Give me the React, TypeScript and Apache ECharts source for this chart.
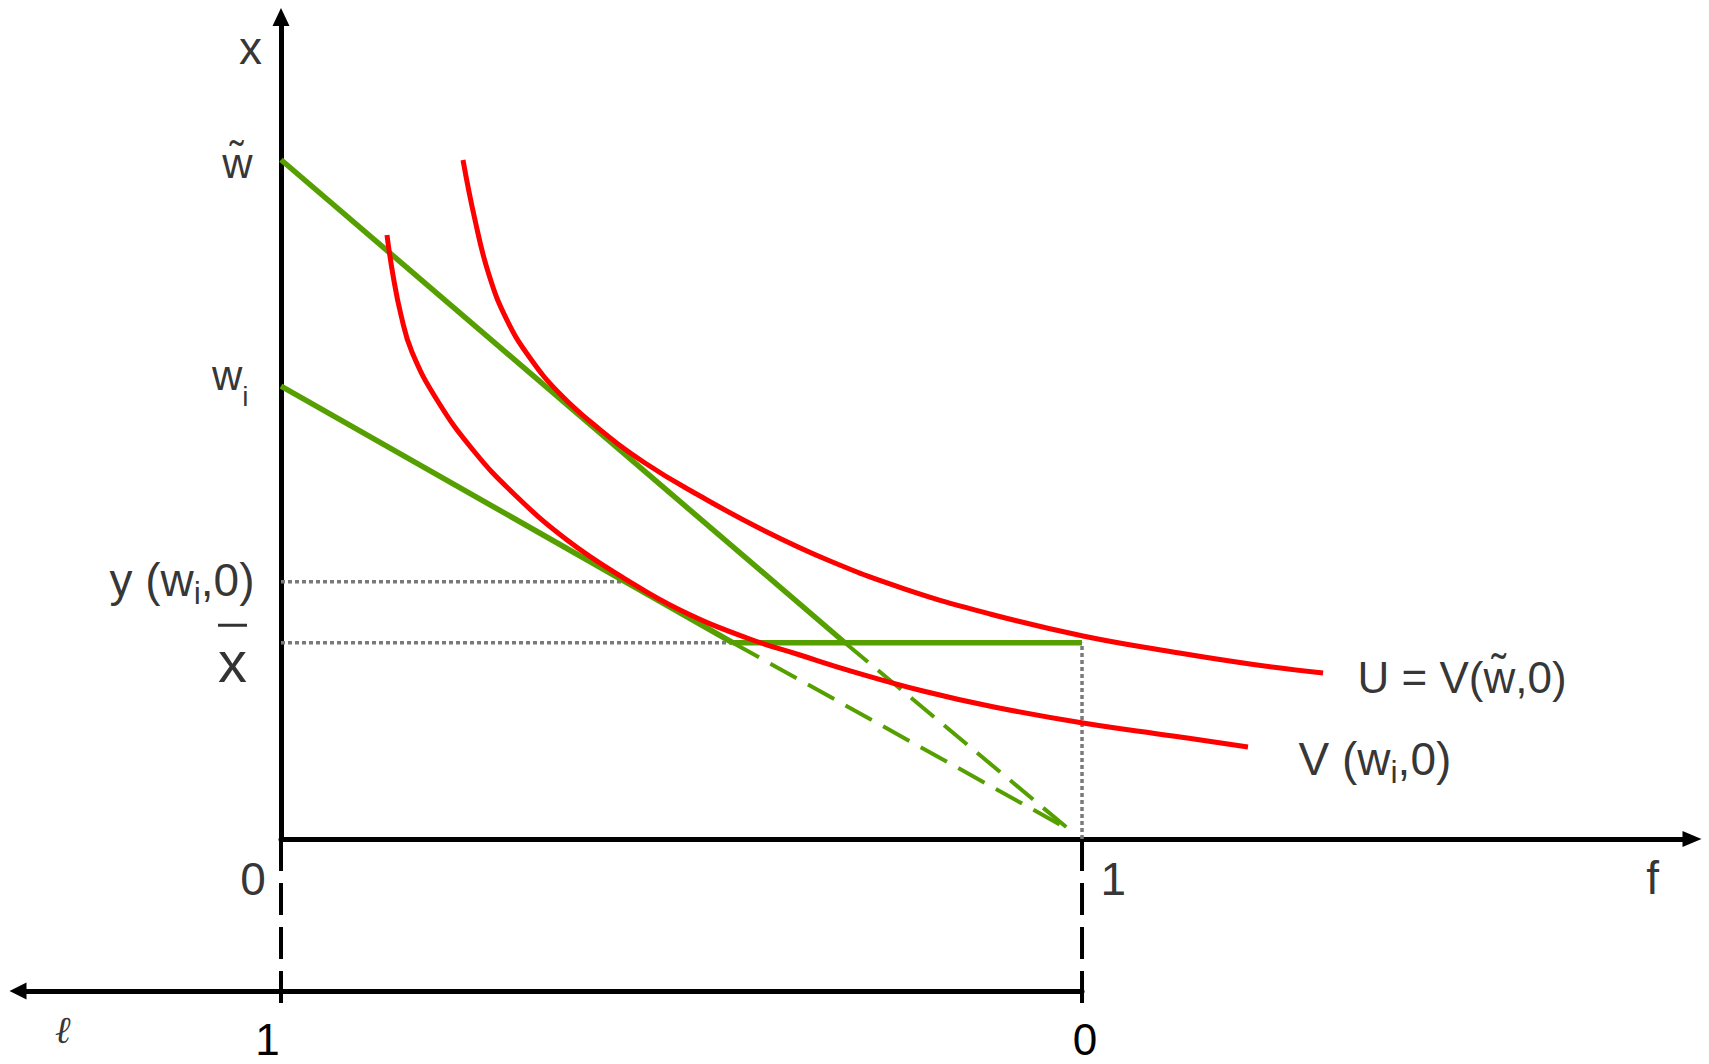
import React, { useEffect, useRef } from "react";
import * as echarts from "echarts";

// ---------------- data (f on the horizontal axis, x on the vertical axis) ----------------
const fAxisRange = [0, 1.7615];
const xAxisRange = [0, 1.0262];
const lAxisRange = [0, 1.3283];

// levels marked on the vertical axis
const wTildeLevel = 0.848;
const wiLevel = 0.5655;
const yWiLevel = 0.321;
const xBarLevel = 0.245;

// green budget lines
const budgetWTilde = [[0, 0.848], [0.704, 0.245]];
const budgetWTildeDashed = [[0.704, 0.245], [0.985, 0.011]];
const budgetWi = [[0, 0.5655], [0.564, 0.245]];
const budgetWiDashed = [[0.564, 0.245], [0.985, 0.011]];
const xBarSegment = [[0.564, 0.245], [1, 0.245]];

// grey guides and black drop lines
const guideYwi = [[0, 0.321], [0.427, 0.321]];
const guideXbar = [[0, 0.245], [0.564, 0.245]];
const guideF1 = [[1, 0], [1, 0.245]];
const dropF0 = [[0, 0], [0, -0.206]];
const dropF1 = [[1, 0], [1, -0.206]];

// red indifference curves
const curveUF = [0.2272, 0.2422, 0.2597, 0.2821, 0.3109, 0.3483, 0.3958, 0.4544, 0.5231, 0.6017, 0.6854, 0.779, 0.8851, 1.0012, 1.1136, 1.2097, 1.3009];
const curveUX = [0.8477, 0.7728, 0.7041, 0.6479, 0.6005, 0.5556, 0.5131, 0.4694, 0.4282, 0.3858, 0.3471, 0.3121, 0.2809, 0.2534, 0.2335, 0.2185, 0.2072];
const curveVF = [0.1323, 0.1398, 0.1498, 0.1635, 0.1948, 0.2397, 0.2896, 0.3571, 0.432, 0.4981, 0.5818, 0.6479, 0.7116, 0.8015, 0.8901, 1.0012, 1.1136, 1.2072];
const curveVX = [0.7541, 0.7041, 0.6542, 0.608, 0.5481, 0.4856, 0.432, 0.3733, 0.3233, 0.2859, 0.2509, 0.2297, 0.2097, 0.1848, 0.1648, 0.1448, 0.1286, 0.1149];

// axis texts
const fTickValues = [0, 1];
const fTickTexts = ["0", "1"];
const lTickTexts = { 0: "0", 1: "1" };
const xNameAt = [0, 0.9825];
const fNameAt = [1.713, 0];
const lNameAt = [1.272, 0];
const wTildeText = "w\u0303";
const uLabel = "U = V(w\u0303,0)";

const FONT = "'Liberation Sans', Arial, Helvetica, sans-serif";
const GREEN = "#55a000";
const RED = "#ff0000";
const GREY = "#7a7a7a";

function seg(data: number[][], color: string, width: number, type: any, z: number, smooth?: number) {
  return {
    type: "line",
    xAxisIndex: 0,
    yAxisIndex: 0,
    data,
    symbol: "none",
    showSymbol: false,
    clip: false,
    silent: true,
    smooth: smooth || false,
    z,
    lineStyle: { color, width, type, cap: "butt" },
    emphasis: { disabled: true },
  };
}

function mark(value: number[], text: string, position: number[], align: string, fontSize: number, rich?: any, extra?: any) {
  return {
    value,
    label: {
      show: true,
      formatter: () => text,
      position,
      align,
      verticalAlign: "middle",
      fontSize,
      fontFamily: FONT,
      color: "#000",
      rich,
      ...(extra || {}),
    },
  };
}

function buildOption() {
  const zipped = (fs: number[], xs: number[]) => fs.map((f, i) => [f, xs[i]]);
  const uData = zipped(curveUF, curveUX);
  const vData = zipped(curveVF, curveVX);
  const uEnd = uData[uData.length - 1];
  const vEnd = vData[vData.length - 1];

  const subRich = (main: number, mainLH: number, sub: number) => ({
    m: { fontSize: main, lineHeight: mainLH, fontFamily: FONT, color: "#000" },
    s: { fontSize: sub, lineHeight: sub, fontFamily: FONT, color: "#000", verticalAlign: "bottom" },
  });

  const marks = [
    mark(xNameAt, "x", [-30, -4], "center", 46),
    mark([0, wTildeLevel], wTildeText, [-28, 4], "right", 42),
    mark([0, wiLevel], "{m|w}{s|i}", [-32, -10], "right", 42, subRich(42, 70, 28)),
    mark([0, yWiLevel], "{m|y (w}{s|i}{m|,0)}", [-26, -1], "right", 46, subRich(46, 58, 32)),
    mark([0, xBarLevel], "{bar|}\n{x|x}", [-48, 17.5], "center", 58, {
      bar: { width: 29, height: 3, lineHeight: 3, backgroundColor: "#000", align: "center" },
      x: { fontSize: 58, lineHeight: 69, fontFamily: FONT, color: "#000", align: "center" },
    }),
    mark([fTickValues[0], 0], fTickTexts[0], [-27.5, 40], "center", 46),
    mark([fTickValues[1], 0], fTickTexts[1], [31.8, 40.5], "center", 46),
    mark(fNameAt, "f", [0, 39.5], "center", 46),
    mark(uEnd, uLabel, [35, 4.5], "left", 44),
    mark(vEnd, "{m|V (w}{s|i}{m|,0)}", [51, 13], "left", 46, subRich(46, 58, 32)),
  ];

  const axisLineStyle = { color: "#000", width: 5 };

  return {
    animation: false,
    backgroundColor: "#ffffff",
    grid: [
      { left: 281, top: 17, width: 1411, height: 822 },
      { left: 18, top: 900, width: 1064, height: 91 },
    ],
    xAxis: [
      {
        type: "value",
        gridIndex: 0,
        min: fAxisRange[0],
        max: fAxisRange[1],
        axisLine: { show: true, onZero: false, lineStyle: axisLineStyle, symbol: ["none", "triangle"], symbolSize: [16, 19] },
        axisTick: { show: false },
        axisLabel: { show: false },
        splitLine: { show: false },
      },
      {
        type: "value",
        gridIndex: 1,
        position: "bottom",
        inverse: true,
        min: lAxisRange[0],
        max: lAxisRange[1],
        interval: 0.5,
        axisLine: { show: true, onZero: false, lineStyle: axisLineStyle, symbol: ["triangle", "none"], symbolSize: [17, 17] },
        axisTick: { show: false },
        splitLine: { show: false },
        axisLabel: {
          show: true,
          margin: 26,
          formatter: (v: number) => {
            if (Math.abs(v - 1) < 1e-6) return "{a|" + lTickTexts[1] + "}";
            if (Math.abs(v) < 1e-6) return "{b|" + lTickTexts[0] + "}";
            return "";
          },
          rich: {
            a: { fontSize: 44, lineHeight: 44, fontFamily: FONT, color: "#000", padding: [0, 27, 0, 0] },
            b: { fontSize: 44, lineHeight: 44, fontFamily: FONT, color: "#000", padding: [0, 0, 0, 6] },
          },
        },
      },
    ],
    yAxis: [
      {
        type: "value",
        gridIndex: 0,
        min: xAxisRange[0],
        max: xAxisRange[1],
        axisLine: { show: true, onZero: false, lineStyle: axisLineStyle, symbol: ["none", "triangle"], symbolSize: [17, 18] },
        axisTick: { show: false },
        axisLabel: { show: false },
        splitLine: { show: false },
      },
      { type: "value", gridIndex: 1, min: 0, max: 1, show: false },
    ],
    series: [
      seg(guideYwi, GREY, 3.5, [4, 3], 1),
      seg(guideXbar, GREY, 3.5, [4, 3], 1),
      seg(guideF1, GREY, 3.5, [4, 3], 1),
      seg(dropF0, "#000", 4, [32, 12], 1),
      seg(dropF1, "#000", 4, [32, 12], 1),
      seg(budgetWTildeDashed, GREEN, 4, [30, 13], 2),
      seg(budgetWiDashed, GREEN, 4, [30, 13], 2),
      seg(budgetWTilde, GREEN, 5.5, "solid", 3),
      seg(budgetWi, GREEN, 5.5, "solid", 3),
      seg(xBarSegment, GREEN, 5.5, "solid", 3),
      seg(uData, RED, 5, "solid", 4, 0.45),
      seg(vData, RED, 5, "solid", 4, 0.45),
      {
        type: "scatter",
        xAxisIndex: 0,
        yAxisIndex: 0,
        symbolSize: 1,
        itemStyle: { color: "rgba(0,0,0,0)" },
        clip: false,
        silent: true,
        z: 10,
        data: marks,
      },
      {
        type: "scatter",
        xAxisIndex: 1,
        yAxisIndex: 1,
        symbolSize: 1,
        itemStyle: { color: "rgba(0,0,0,0)" },
        clip: false,
        silent: true,
        z: 10,
        data: [
          {
            value: lNameAt,
            label: {
              show: true,
              formatter: () => "\u2113",
              position: [0, 39],
              align: "center",
              verticalAlign: "middle",
              fontSize: 38,
              fontFamily: "'DejaVu Serif', serif",
              fontStyle: "italic",
              color: "#000",
            },
          },
        ],
      },
    ],
  };
}

export default function App() {
  const ref = useRef<HTMLDivElement>(null);
  useEffect(() => {
    if (!ref.current) return;
    const chart = echarts.init(ref.current, undefined, { renderer: "svg" });
    chart.setOption(buildOption() as any);
    return () => chart.dispose();
  }, []);
  return (
    <div
      ref={ref}
      style={{ position: "fixed", left: 0, top: 0, width: 1709, height: 1064, background: "#fff" }}
    />
  );
}
